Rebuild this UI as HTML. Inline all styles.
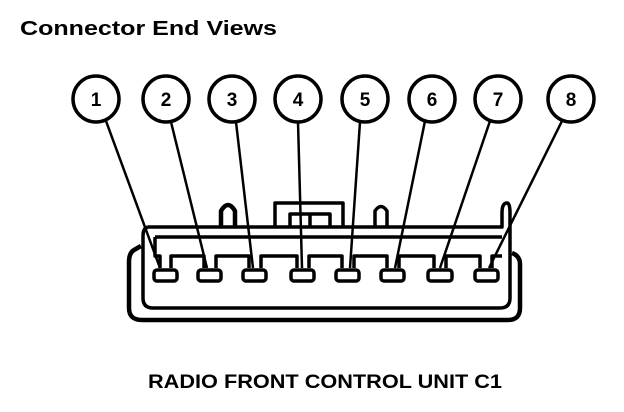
<!DOCTYPE html>
<html><head><style>html,body{margin:0;padding:0;background:#fff}</style></head>
<body>
<svg width="624" height="412" viewBox="0 0 624 412" xmlns="http://www.w3.org/2000/svg" style="display:block">
<g font-family="Liberation Sans, Arial, sans-serif" font-weight="bold" fill="#000">
<text x="20" y="35" font-size="20" textLength="257" lengthAdjust="spacingAndGlyphs">Connector End Views</text>
<text x="148" y="388" font-size="19" textLength="354" lengthAdjust="spacingAndGlyphs">RADIO FRONT CONTROL UNIT C1</text>
</g>
<g fill="none" stroke="#000" stroke-width="3.5" stroke-linejoin="round">
<circle cx="96" cy="99" r="23"/><circle cx="166" cy="99" r="23"/><circle cx="232" cy="99" r="23"/><circle cx="298" cy="99" r="23"/>
<circle cx="365" cy="99" r="23"/><circle cx="432" cy="99" r="23"/><circle cx="498" cy="99" r="23"/><circle cx="571" cy="99" r="23"/>
<!-- outer shell -->
<path d="M141 246 L134 250 Q129 253 129 262 L129 308 Q129 320 142 320 L508 320 Q520 320 520 308 L520 264 Q520 256 512 253" stroke-width="4.5"/>
<!-- inner -->
<path d="M148 227 Q143 228 143 236 L143 298 Q143 308 153 308 L500 308 Q510 308 510 298 L510 212 Q509 203 503 203 Q502 203 502 212 L502 227 Z" stroke-width="0"/>
<path d="M148 227 Q143 228 143 236 L143 298 Q143 308 153 308 L500 308 Q510 308 510 298 L510 213 Q510 203 507 203 Q502 203 502 213 L502 227 L148 227"/>
<path d="M155 237 L502 237"/>
<!-- bumps -->
<path d="M221 227 L221 211 Q228 199 235 211 L235 227" stroke-width="4.5"/>
<path d="M375 227 L375 211 Q381 202 387 211 L387 227"/>
<path d="M275 227 L275 203 L343 203 L343 227"/>
<path d="M290 227 L290 214 L330 214 L330 227 M310 214 L310 227"/>
<!-- comb -->
<path d="M155 237 L155 256 L160 256 L160 268 M171 268 L171 256 L204 256 L204 268 M216 268 L216 256 L249 256 L249 268 M261 268 L261 256 L297 256 L297 268 M309 268 L309 256 L342 256 L342 268 M354 268 L354 256 L387 256 L387 268 M399 268 L399 256 L434 256 L434 268 M446 268 L446 256 L480 256 L480 268 M492 268 L492 256 L502 256"/>
<!-- pins -->
<rect x="154" y="270" width="23" height="11" rx="3"/><rect x="198" y="270" width="23" height="11" rx="3"/>
<rect x="243" y="270" width="23" height="11" rx="3"/><rect x="291" y="270" width="23" height="11" rx="3"/>
<rect x="336" y="270" width="23" height="11" rx="3"/><rect x="381" y="270" width="23" height="11" rx="3"/>
<rect x="428" y="270" width="24" height="11" rx="3"/><rect x="475" y="270" width="23" height="11" rx="3"/>
</g>
<g stroke="#000" stroke-width="2.5">
<line x1="106" y1="121" x2="160" y2="268"/><line x1="171" y1="122" x2="207" y2="268"/>
<line x1="236" y1="122" x2="253" y2="268"/><line x1="298" y1="122" x2="302" y2="268"/>
<line x1="360" y1="122" x2="350" y2="268"/><line x1="425" y1="121" x2="395" y2="268"/>
<line x1="490" y1="121" x2="440" y2="268"/><line x1="562" y1="121" x2="489" y2="268"/>
</g>
<g font-family="Liberation Sans, Arial, sans-serif" font-weight="bold" font-size="19" text-anchor="middle" fill="#000">
<text x="96" y="106">1</text><text x="166" y="106">2</text><text x="232" y="106">3</text><text x="298" y="106">4</text>
<text x="365" y="106">5</text><text x="432" y="106">6</text><text x="498" y="106">7</text><text x="571" y="106">8</text>
</g>
</svg>
</body></html>
